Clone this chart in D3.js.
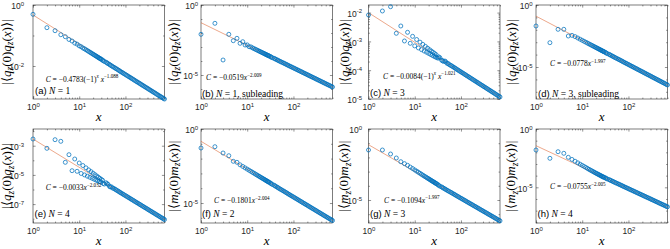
<!DOCTYPE html>
<html><head><meta charset="utf-8">
<script src="https://cdn.jsdelivr.net/npm/d3@7"></script>
<style>body{margin:0;background:#fff}svg{display:block}</style>
</head><body>
<svg id="c" width="670" height="249"></svg>
<script>
// ---------- data (|correlation|, stored as log10) ----------
const X = [1,2,3,4,5,6,7,8,9,10,11,12,13,14,15,16,17,18,19,20,21,22,23,24,25,26,27,28,29,30,
  32,33,35,38,40,42,45,47,50,53,56,60,63,67,71,75,79,84,89,94,100,106,112,119,126,133,141,150,158,168,
  178,188,200,211,224,237,251,266,282,299,316,335,355,376,398,422,447,473,501,531,562,596,631,668,700];
const logA = [-0.305,-0.744,-0.843,-0.974,-1.039,-1.13,-1.181,-1.25,-1.284,-1.34,-1.367,-1.41,-1.436,-1.467,-1.495,-1.522,-1.547,-1.570,-1.593,-1.614,-1.634,-1.653,-1.672,-1.689,-1.706,-1.723,-1.738,-1.753,-1.767,-1.782,
  -1.804,-1.828,-1.851,-1.875,-1.899,-1.923,-1.947,-1.970,-1.994,-2.018,-2.042,-2.066,-2.089,-2.113,-2.137,-2.161,-2.185,-2.208,-2.232,-2.256,-2.280,-2.303,-2.327,-2.351,-2.375,-2.398,-2.422,-2.446,-2.470,-2.494,
  -2.518,-2.541,-2.565,-2.589,-2.613,-2.636,-2.660,-2.684,-2.708,-2.732,-2.755,-2.779,-2.803,-2.827,-2.851,-2.874,-2.898,-2.922,-2.946,-2.970,-2.993,-3.017,-3.041,-3.065,-3.083];
const logB = [-2.093,-1.307,-3.929,-2.093,-2.55,-2.379,-2.736,-2.621,-2.86,-2.85,-2.98,-2.99,-3.062,-3.114,-3.162,-3.207,-3.249,-3.290,-3.328,-3.364,-3.398,-3.430,-3.462,-3.491,-3.520,-3.548,-3.574,-3.599,-3.624,-3.648,
  -3.685,-3.725,-3.766,-3.806,-3.846,-3.887,-3.927,-3.967,-4.008,-4.048,-4.089,-4.129,-4.169,-4.210,-4.250,-4.290,-4.331,-4.371,-4.411,-4.452,-4.492,-4.532,-4.573,-4.613,-4.653,-4.694,-4.734,-4.774,-4.815,-4.855,
  -4.896,-4.936,-4.976,-5.017,-5.057,-5.097,-5.138,-5.178,-5.218,-5.259,-5.299,-5.339,-5.380,-5.420,-5.460,-5.501,-5.541,-5.581,-5.622,-5.662,-5.703,-5.743,-5.783,-5.824,-5.856];
const logC = [-2.083,-1.944,-1.795,-2.719,-2.465,-2.986,-2.684,-3.066,-2.824,-3.156,-2.934,-3.227,-3.026,-3.285,-3.104,-3.335,-3.173,-3.376,-3.235,-3.416,-3.289,-3.452,-3.337,-3.484,-3.381,-3.514,-3.422,-3.540,-3.461,-3.563,
  -3.583,-3.536,-3.565,-3.650,-3.672,-3.694,-3.682,-3.711,-3.763,-3.767,-3.809,-3.831,-3.853,-3.879,-3.905,-3.930,-3.956,-3.982,-4.007,-4.033,-4.059,-4.085,-4.110,-4.136,-4.162,-4.187,-4.213,-4.239,-4.264,-4.290,
  -4.316,-4.341,-4.367,-4.393,-4.418,-4.444,-4.470,-4.496,-4.521,-4.547,-4.573,-4.598,-4.624,-4.650,-4.675,-4.701,-4.727,-4.752,-4.778,-4.804,-4.830,-4.855,-4.881,-4.907,-4.928];
const logD = [-1.694,-3.04,-1.96,-1.96,-2.5,-2.45,-2.548,-2.661,-2.760,-2.85,-2.930,-3.004,-3.072,-3.135,-3.193,-3.248,-3.299,-3.347,-3.394,-3.437,-3.478,-3.517,-3.556,-3.591,-3.626,-3.659,-3.690,-3.722,-3.751,-3.780,
  -3.825,-3.874,-3.923,-3.971,-4.020,-4.069,-4.118,-4.166,-4.215,-4.264,-4.313,-4.361,-4.410,-4.459,-4.508,-4.556,-4.605,-4.654,-4.703,-4.751,-4.800,-4.849,-4.898,-4.946,-4.995,-5.044,-5.093,-5.141,-5.190,-5.239,
  -5.288,-5.336,-5.385,-5.434,-5.483,-5.531,-5.580,-5.629,-5.678,-5.726,-5.775,-5.824,-5.873,-5.921,-5.970,-6.019,-6.068,-6.116,-6.165,-6.214,-6.263,-6.311,-6.360,-6.409,-6.448];
const logE = [-2.541,-3.178,-2.589,-2.699,-4.137,-3.616,-4.712,-3.911,-4.753,-4.185,-4.901,-4.359,-5.002,-4.516,-5.088,-4.657,-5.166,-4.775,-5.233,-4.886,-5.296,-4.985,-5.353,-5.080,-5.403,-5.162,-5.446,-5.237,-5.492,-5.309,
  -5.368,-5.587,-5.626,-5.537,-5.593,-5.651,-5.782,-5.823,-5.821,-5.903,-5.927,-5.983,-6.031,-6.080,-6.128,-6.177,-6.225,-6.274,-6.322,-6.371,-6.419,-6.467,-6.516,-6.564,-6.613,-6.661,-6.710,-6.758,-6.807,-6.855,
  -6.904,-6.952,-7.001,-7.049,-7.098,-7.146,-7.194,-7.243,-7.291,-7.340,-7.389,-7.437,-7.485,-7.534,-7.582,-7.631,-7.679,-7.728,-7.776,-7.825,-7.873,-7.922,-7.970,-8.019,-8.057];
const logF = [-1.284,-1.196,-1.622,-1.804,-2.182,-2.25,-2.420,-2.530,-2.626,-2.712,-2.789,-2.861,-2.926,-2.987,-3.043,-3.096,-3.145,-3.192,-3.237,-3.278,-3.318,-3.355,-3.393,-3.427,-3.461,-3.493,-3.523,-3.553,-3.581,-3.609,
  -3.653,-3.700,-3.747,-3.794,-3.841,-3.888,-3.935,-3.982,-4.029,-4.076,-4.123,-4.170,-4.217,-4.264,-4.311,-4.358,-4.405,-4.452,-4.499,-4.546,-4.593,-4.640,-4.687,-4.734,-4.781,-4.828,-4.875,-4.922,-4.969,-5.016,
  -5.063,-5.110,-5.157,-5.204,-5.251,-5.298,-5.346,-5.393,-5.440,-5.487,-5.534,-5.581,-5.628,-5.675,-5.722,-5.769,-5.816,-5.863,-5.910,-5.957,-6.004,-6.051,-6.098,-6.145,-6.182];
const logG = [-1.479,-1.479,-1.761,-2.042,-2.303,-2.44,-2.558,-2.681,-2.784,-2.885,-2.969,-3.048,-3.121,-3.189,-3.253,-3.313,-3.365,-3.416,-3.464,-3.509,-3.552,-3.594,-3.634,-3.672,-3.706,-3.741,-3.775,-3.806,-3.837,-3.869,
  -3.920,-3.975,-4.028,-4.075,-4.122,-4.169,-4.216,-4.263,-4.311,-4.358,-4.405,-4.452,-4.499,-4.546,-4.593,-4.640,-4.687,-4.735,-4.782,-4.829,-4.876,-4.923,-4.970,-5.017,-5.064,-5.111,-5.159,-5.206,-5.253,-5.300,
  -5.347,-5.394,-5.441,-5.488,-5.535,-5.582,-5.630,-5.677,-5.724,-5.771,-5.819,-5.865,-5.912,-5.959,-6.007,-6.054,-6.101,-6.148,-6.195,-6.242,-6.290,-6.337,-6.384,-6.431,-6.469];
const logH = [-1.801,-2.513,-1.947,-2.084,-2.427,-2.609,-2.766,-2.899,-3.018,-3.121,-3.214,-3.301,-3.382,-3.458,-3.522,-3.582,-3.639,-3.694,-3.746,-3.796,-3.838,-3.879,-3.921,-3.958,-3.996,-4.031,-4.069,-4.099,-4.126,-4.154,
  -4.197,-4.243,-4.289,-4.335,-4.381,-4.427,-4.473,-4.519,-4.565,-4.611,-4.658,-4.703,-4.749,-4.796,-4.842,-4.888,-4.934,-4.980,-5.026,-5.072,-5.118,-5.164,-5.210,-5.256,-5.302,-5.348,-5.394,-5.441,-5.487,-5.533,
  -5.579,-5.625,-5.671,-5.717,-5.763,-5.809,-5.855,-5.901,-5.947,-5.993,-6.040,-6.085,-6.131,-6.177,-6.224,-6.270,-6.316,-6.362,-6.408,-6.454,-6.500,-6.546,-6.592,-6.638,-6.675];
// fitted power-law line: x range and log10 values at its two ends
const fitX = [1, 700];
const fitA = [-0.328,-3.034], fitB = [-1.264,-5.856], fitC = [-2.003,-4.928], fitD = [-0.9,-6.448];
const fitE = [-2.541,-8.057], fitF = [-0.831,-6.182], fitG = [-1.106,-6.469], fitH = [-1.432,-6.675];
// axes
const xDomain = [1, 700];
const xTickExps = [0, 1, 2];
const yDomA = [-3.082, 0], yDomB = [-6.714, 0], yDomC = [-5.0, -1.736], yDomD = [-7.58, 0];
const yDomE = [-8.294, -1.856], yDomF = [-6.35, 0], yDomG = [-6.62, 0], yDomH = [-8.06, 0];
const yTicksA = [0,-2], yTicksB = [0,-5], yTicksC = [-2,-3,-4,-5], yTicksD = [0,-5];
const yTicksE = [-3,-5,-7], yTicksF = [0,-5], yTicksG = [0,-5], yTicksH = [0,-5];
// texts
const fitTexts = [
  [["C","i"],[" = −0.4783(−1)"],["x","is"],[" x","i"],["−1.088","s"]],
  [["C","i"],[" = −0.0519"],["x","i"],["−2.009","s"]],
  [["C","i"],[" = −0.0084(−1)"],["x","is"],[" x","i"],["−1.021","s"]],
  [["C","i"],[" = −0.0778"],["x","i"],["−1.997","s"]],
  [["C","i"],[" = −0.0033"],["x","i"],["−2.032","s"]],
  [["C","i"],[" = −0.1801"],["x","i"],["−2.004","s"]],
  [["C","i"],[" = −0.1094"],["x","i"],["−1.997","s"]],
  [["C","i"],[" = −0.0755"],["x","i"],["−2.005","s"]]
];
const panelLetters = ["(a)","(b)","(c)","(d)","(e)","(f)","(g)","(h)"];
const panelN = ["1","1","3","3","4","2","3","4"];
const panelExtra = ["",", subleading","",", subleading","","","",""];
const yLabelOp = ["q","q","q","q","q","m","m","m"];

// ---------- layout ----------
const colL = [33, 201, 368.5, 536], W = 131.5;
const rowT = [5, 129], H = 94;
const boxes = [];
rowT.forEach(t => colL.forEach(l => boxes.push({l, r: l + W, t, b: t + H})));
const tickPad = [9, 3, 6.5, 3.5, 9, 3, 6.5, 3.5];
const yLabelX = [10.5, 177.5, 348.5, 515.5, 11, 177.5, 348, 515];
const fitPos = [[45.7,81.5],[206,80],[383,78.5],[550,66],[45.7,190],[214,203],[384,202.5],[550,189]];
const labPos = [[35,94],[202,97],[370,96],[538,96.5],[34.5,217],[202,217],[370,217],[537.5,217]];

const logs = [logA,logB,logC,logD,logE,logF,logG,logH];
const fits = [fitA,fitB,fitC,fitD,fitE,fitF,fitG,fitH];
const yDoms = [yDomA,yDomB,yDomC,yDomD,yDomE,yDomF,yDomG,yDomH];
const yTicks = [yTicksA,yTicksB,yTicksC,yTicksD,yTicksE,yTicksF,yTicksG,yTicksH];

const BLUE = "#0072BD", ORANGE = "#D95319", AX = "#262626";
const SANS = "'Liberation Sans', Arial, sans-serif";
const SERIF = "'Liberation Serif', 'Times New Roman', serif";
const svg = d3.select("#c");

function rich(g, x, y, segs, size, anchor) {
  const t = g.append("text").attr("x", x).attr("y", y).style("font-family", SERIF)
    .attr("font-size", size).attr("fill", "#000");
  if (anchor) t.attr("text-anchor", anchor);
  let shift = 0;
  segs.forEach(s => {
    const f = s[1] || "";
    const ts = t.append("tspan").text(s[0]);
    if (f.includes("i")) ts.attr("font-style", "italic");
    if (f.includes("a")) ts.style("font-family", SANS);
    let want = 0;
    if (f.includes("s")) { want = -size*0.42; ts.attr("font-size", size*0.68); }
    if (f.includes("b")) { want = size*0.22; ts.attr("font-size", size*0.72); }
    if (want !== shift) { ts.attr("dy", want - shift); shift = want; }
  });
  return t;
}

function minorVals(lo, hi) {
  const out = [];
  for (let e = Math.floor(lo); e <= Math.ceil(hi); e++)
    for (let m = 2; m <= 9; m++) { const v = m * Math.pow(10, e); if (Math.log10(v) >= lo && Math.log10(v) <= hi) out.push(v); }
  return out;
}

boxes.forEach((bx, i) => {
  const g = svg.append("g");
  const x = d3.scaleLog().domain(xDomain).range([bx.l, bx.r]);
  const yd = yDoms[i];
  const y = d3.scaleLog().domain([Math.pow(10, yd[0]), Math.pow(10, yd[1])]).range([bx.b, bx.t]);

  g.append("rect").attr("x", bx.l).attr("y", bx.t).attr("width", bx.r - bx.l).attr("height", bx.b - bx.t)
    .attr("fill", "none").attr("stroke", AX).attr("stroke-width", 0.6);

  const tickStyle = s => { s.select(".domain").remove(); s.selectAll("line").attr("stroke", AX).attr("stroke-width", 0.5); };
  const xMaj = xTickExps.map(e => Math.pow(10, e));
  const xMin = minorVals(0, Math.log10(xDomain[1]));
  [[d3.axisBottom, bx.b], [d3.axisTop, bx.t]].forEach(([ax, pos]) => {
    g.append("g").attr("transform", `translate(0,${pos})`)
      .call(ax(x).tickValues(xMaj).tickSize(-2.6).tickSizeOuter(0).tickFormat("")).call(tickStyle);
    g.append("g").attr("transform", `translate(0,${pos})`)
      .call(ax(x).tickValues(xMin).tickSize(-1.4).tickSizeOuter(0).tickFormat("")).call(tickStyle);
  });
  const xl = g.append("g").attr("transform", `translate(0,${bx.b})`)
    .call(d3.axisBottom(x).tickValues(xMaj).tickSize(0).tickPadding(5).tickFormat(""));
  xl.select(".domain").remove();
  xl.selectAll(".tick text").each(function(d) {
    const t = d3.select(this).style("font-family", SANS).attr("font-size", 8.5).attr("fill", AX);
    t.append("tspan").text("10");
    t.append("tspan").text(String(Math.round(Math.log10(d)))).attr("font-size", 6).attr("dy", -3.5);
  });

  const yMaj = yTicks[i].map(e => Math.pow(10, e));
  const decs = [];
  for (let e = Math.ceil(yd[0]); e <= Math.floor(yd[1]); e++) if (!yTicks[i].includes(e)) decs.push(Math.pow(10, e));
  const yMin = yTicks[i].length > 3 ? minorVals(yd[0], yd[1]) : decs;
  [[d3.axisLeft, bx.l], [d3.axisRight, bx.r]].forEach(([ax, pos]) => {
    g.append("g").attr("transform", `translate(${pos},0)`)
      .call(ax(y).tickValues(yMaj).tickSize(-2.6).tickSizeOuter(0).tickFormat("")).call(tickStyle);
    g.append("g").attr("transform", `translate(${pos},0)`)
      .call(ax(y).tickValues(yMin).tickSize(-1.4).tickSizeOuter(0).tickFormat("")).call(tickStyle);
  });
  const yl = g.append("g").attr("transform", `translate(${bx.l},0)`)
    .call(d3.axisLeft(y).tickValues(yMaj).tickSize(0).tickPadding(tickPad[i]).tickFormat(""));
  yl.select(".domain").remove();
  yl.selectAll(".tick text").each(function(d) {
    const t = d3.select(this).style("font-family", SANS).attr("font-size", 8.5).attr("fill", AX).attr("dy", "0.45em");
    t.append("tspan").text("10");
    t.append("tspan").text(String(Math.round(Math.log10(d)))).attr("font-size", 6).attr("dy", -3.5);
  });

  // fitted line
  const fitPts = fitX.map((v, k) => [v, Math.pow(10, fits[i][k])]);
  g.append("path").datum(fitPts)
    .attr("d", d3.line().x(d => x(d[0])).y(d => y(d[1])))
    .attr("fill", "none").attr("stroke", ORANGE).attr("stroke-opacity", 0.85).attr("stroke-width", 0.6);

  // markers
  const pts = X.map((v, k) => [v, Math.pow(10, logs[i][k])]);
  g.append("g").selectAll("circle").data(pts).join("circle")
    .attr("cx", d => x(d[0])).attr("cy", d => y(d[1])).attr("r", 2)
    .attr("fill", "none").attr("stroke", BLUE).attr("stroke-width", 0.75);

  rich(g, fitPos[i][0], fitPos[i][1], fitTexts[i], 7.5);
  rich(g, labPos[i][0], labPos[i][1], [[panelLetters[i], "a"], [" N", "i"], [" = " + panelN[i]], [panelExtra[i]]], 9.5);
  rich(g, (bx.l + bx.r) / 2, bx.b + 22, [["x", "i"]], 13, "middle");
  const op = yLabelOp[i];
  const ylab = rich(g, 0, 0, [["|⟨"], [op, "i"], ["z", "ib"], ["(0)"], [op, "i"], ["z", "ib"], ["("], ["x", "i"], [")⟩|"]], 13, "middle");
  ylab.attr("transform", `translate(${yLabelX[i]},${(bx.t + bx.b) / 2}) rotate(-90)`);
});
</script>
</body></html>
